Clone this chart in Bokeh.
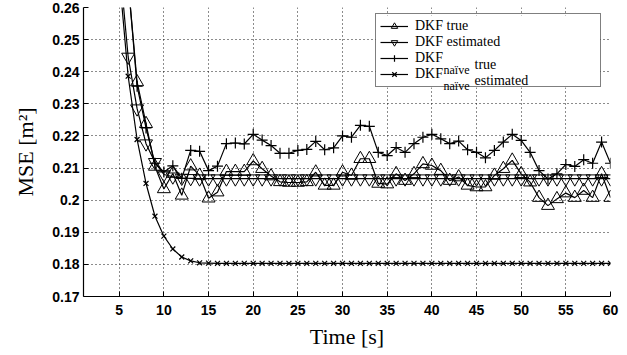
from bokeh.plotting import figure
from bokeh.models import Range1d, FixedTicker, Legend, LegendItem, Label, BoxAnnotation
from bokeh.embed import file_html
from bokeh.resources import INLINE

time_s = list(range(1, 61))

dkf_true = [0.95, 0.62, 0.45, 0.36, 0.30, 0.268, 0.2368, 0.2238, 0.2105, 0.2035,
            0.2083, 0.2015, 0.2106, 0.2077, 0.2006, 0.2025, 0.2089, 0.2089, 0.2089, 0.2122,
            0.2098, 0.2075, 0.2057, 0.2055, 0.2055, 0.2057, 0.2087, 0.2046, 0.2046, 0.2087,
            0.2077, 0.2129, 0.2129, 0.2052, 0.2050, 0.2082, 0.2061, 0.2082, 0.2113, 0.2108,
            0.2092, 0.2061, 0.2072, 0.2046, 0.2041, 0.2041, 0.2077, 0.2098, 0.2124, 0.2082,
            0.2056, 0.2008, 0.1983, 0.2004, 0.2022, 0.2008, 0.2030, 0.2008, 0.2082, 0.2008]

dkf_est = [0.98, 0.64, 0.46, 0.34, 0.275, 0.2446, 0.2285, 0.2176, 0.2118, 0.2080,
           0.2073, 0.2069, 0.2068, 0.2067, 0.2067, 0.2067, 0.2067, 0.2067, 0.2067, 0.2067,
           0.2067, 0.2067, 0.2067, 0.2067, 0.2067, 0.2067, 0.2067, 0.2067, 0.2067, 0.2067,
           0.2067, 0.2067, 0.2067, 0.2067, 0.2067, 0.2067, 0.2067, 0.2067, 0.2067, 0.2067,
           0.2067, 0.2067, 0.2067, 0.2067, 0.2067, 0.2067, 0.2067, 0.2067, 0.2067, 0.2067,
           0.2067, 0.2067, 0.2067, 0.2067, 0.2067, 0.2067, 0.2067, 0.2067, 0.2067, 0.2067]

naive_true = [0.93, 0.60, 0.44, 0.35, 0.30, 0.268, 0.2355, 0.2225, 0.2115, 0.2088,
              0.2107, 0.2068, 0.2155, 0.2152, 0.2092, 0.2106, 0.2176, 0.2178, 0.2175, 0.2205,
              0.2187, 0.2170, 0.2146, 0.2146, 0.2155, 0.2158, 0.2183, 0.2157, 0.2163, 0.2200,
              0.2196, 0.2233, 0.2230, 0.2149, 0.2139, 0.2164, 0.2149, 0.2176, 0.2196, 0.2205,
              0.2191, 0.2176, 0.2184, 0.2157, 0.2149, 0.2132, 0.2155, 0.2181, 0.2205, 0.2186,
              0.2149, 0.2092, 0.2066, 0.2082, 0.2111, 0.2105, 0.2126, 0.2115, 0.2181, 0.2115]

naive_est = [0.90, 0.56, 0.39, 0.31, 0.27, 0.2386, 0.2189, 0.2052, 0.1950, 0.1888,
             0.1848, 0.1823, 0.1811, 0.1805, 0.1804, 0.1803, 0.1803, 0.1803, 0.1803, 0.1803,
             0.1803, 0.1803, 0.1803, 0.1803, 0.1803, 0.1803, 0.1803, 0.1803, 0.1803, 0.1803,
             0.1803, 0.1803, 0.1803, 0.1803, 0.1803, 0.1803, 0.1803, 0.1803, 0.1803, 0.1803,
             0.1803, 0.1803, 0.1803, 0.1803, 0.1803, 0.1803, 0.1803, 0.1803, 0.1803, 0.1803,
             0.1803, 0.1803, 0.1803, 0.1803, 0.1803, 0.1803, 0.1803, 0.1803, 0.1803, 0.1803]

x_ticks = [5, 10, 15, 20, 25, 30, 35, 40, 45, 50, 55, 60]
y_ticks = [0.17, 0.18, 0.19, 0.20, 0.21, 0.22, 0.23, 0.24, 0.25, 0.26]
y_tick_labels = ["0.17", "0.18", "0.19", "0.2", "0.21", "0.22", "0.23", "0.24", "0.25", "0.26"]

p = figure(width=627, height=355, output_backend="svg", toolbar_location=None,
           x_range=Range1d(1, 60), y_range=Range1d(0.17, 0.26),
           min_border_left=83, min_border_right=17, min_border_top=7, min_border_bottom=59)
p.outline_line_color = None
p.background_fill_color = "white"
p.border_fill_color = "white"

for ax in (p.xaxis[0], p.yaxis[0]):
    ax.axis_line_color = "black"
    ax.axis_line_width = 1.2
    ax.major_tick_in = 5
    ax.major_tick_out = 0
    ax.major_tick_line_color = "black"
    ax.minor_tick_line_color = None
    ax.major_label_text_font = "Liberation Sans"
    ax.major_label_text_font_style = "bold"
    ax.major_label_text_font_size = "14px"
    ax.major_label_text_color = "black"
    ax.axis_label_text_font = "Liberation Serif"
    ax.axis_label_text_font_style = "normal"
    ax.axis_label_text_font_size = "22px"
    ax.axis_label_text_color = "black"

p.xaxis[0].ticker = FixedTicker(ticks=x_ticks)
p.yaxis[0].ticker = FixedTicker(ticks=y_ticks)
p.yaxis[0].major_label_overrides = {t: s for t, s in zip(y_ticks, y_tick_labels)}
p.xaxis[0].axis_label = "Time [s]"
p.yaxis[0].axis_label = "MSE [m²]"
p.xaxis[0].major_label_standoff = 8
p.xaxis[0].axis_label_standoff = 6
p.yaxis[0].major_label_standoff = 4
p.yaxis[0].axis_label_standoff = 11

for g in (p.xgrid[0], p.ygrid[0]):
    g.grid_line_color = "black"
    g.grid_line_dash = "1 3"
    g.grid_line_width = 1
    g.grid_line_alpha = 0.9

# white backing of the legend box (screen units, relative to the frame)
p.add_layout(BoxAnnotation(left=292, right=517, bottom=209, top=281,
                           left_units="screen", right_units="screen",
                           bottom_units="screen", top_units="screen",
                           fill_color="white", fill_alpha=1, line_color=None,
                           level="glyph", editable=False))

lw = 1.2
l1 = p.line(time_s, dkf_true, line_color="black", line_width=lw)
s1 = p.scatter(time_s, dkf_true, marker="triangle", size=13, line_color="black", fill_alpha=0, line_width=1)
l2 = p.line(time_s, dkf_est, line_color="black", line_width=lw)
s2 = p.scatter(time_s, dkf_est, marker="inverted_triangle", size=13, line_color="black", fill_alpha=0, line_width=1)
l3 = p.line(time_s, naive_true, line_color="black", line_width=lw)
s3 = p.scatter(time_s, naive_true, marker="cross", size=11, line_color="black", line_width=1.2)
l4 = p.line(time_s, naive_est, line_color="black", line_width=lw)
s4 = p.scatter(time_s, naive_est, marker="x", size=7, line_color="black", line_width=1.2)

legend = Legend(items=[
    LegendItem(label="DKF true", renderers=[l1, s1]),
    LegendItem(label="DKF estimated", renderers=[l2, s2]),
    LegendItem(label="DKF", renderers=[l3, s3]),
    LegendItem(label="DKF", renderers=[l4, s4]),
], location=(292, 209))
legend.padding = 4
legend.spacing = 0
legend.margin = 0
legend.glyph_width = 28
legend.glyph_height = 16
legend.label_height = 16
legend.label_width = 181
legend.label_standoff = 7
legend.label_text_font = "Liberation Serif"
legend.label_text_font_size = "14px"
legend.label_text_color = "black"
legend.border_line_color = "black"
legend.border_line_width = 1.2
legend.background_fill_alpha = 0
p.add_layout(legend)

def add_label(x, y, text, size):
    p.add_layout(Label(x=x, y=y, x_units="screen", y_units="screen", text=text,
                       text_font="Liberation Serif", text_font_size=size,
                       text_color="black", text_baseline="alphabetic"))

add_label(360, 227, "naïve", "12px")
add_label(391, 232, "true", "14px")
add_label(360, 211, "naïve", "12px")
add_label(391, 216, "estimated", "14px")

open("out.html", "w").write(file_html(p, INLINE))
